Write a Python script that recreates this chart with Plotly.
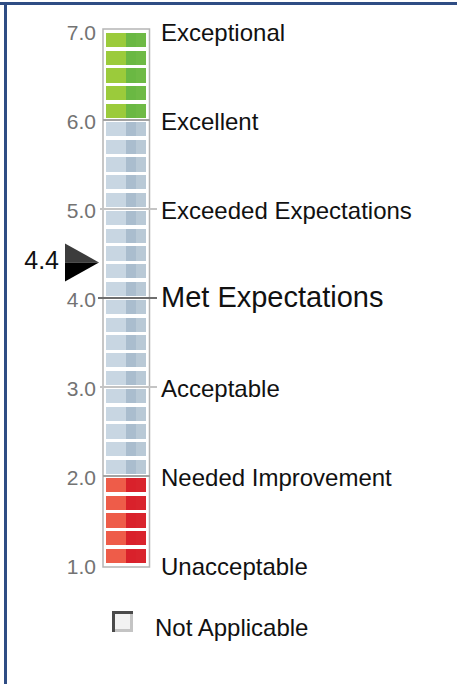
import numpy as np
import plotly.graph_objects as go

# ---- data ----
levels = [1, 2, 3, 4, 5, 6, 7]
tick_labels = ["1.0", "2.0", "3.0", "4.0", "5.0", "6.0", "7.0"]
level_names = ["Unacceptable", "Needed Improvement", "Acceptable", "Met Expectations",
               "Exceeded Expectations", "Excellent", "Exceptional"]
band_names = ["red", "blue", "green"]
band_low = [1, 2, 6]
band_high = [2, 6, 7]
segment_step = 0.2
score = 4.4
score_label = "4.4"
na_label = "Not Applicable"

# ---- layout constants ----
W, H = 457, 684
PX_PER_UNIT = 89.0
Y7_PX = 31.0
y_top = 7 + Y7_PX / PX_PER_UNIT
y_bot = 7 - (H - Y7_PX) / PX_PER_UNIT
TEXT_DROP = 3.5 / PX_PER_UNIT


def py(px):  # pixel -> paper y
    return 1 - px / H


band_colors = {
    "green": ["#9bcb3b", "#6ab843", "#6fba46"],
    "blue": ["#c8d6e2", "#aabdce", "#b9c9d6"],
    "red": ["#ee5c49", "#d9212b", "#d9242d"],
}
col_centers = [116, 131, 141]
col_widths = [20, 10, 10]
gap = 0.02
FONT = "Liberation Sans, Arial"

fig = go.Figure()

# bar outer frame
fig.add_shape(type="rect", xref="x", yref="y", x0=103, x1=149.5,
              y0=1 - 2 / PX_PER_UNIT, y1=7 + 2 / PX_PER_UNIT,
              line=dict(color="#b5b5b5", width=1.5), fillcolor="white", layer="below")

# segments
for name, lo, hi in zip(band_names, band_low, band_high):
    n = int(round((hi - lo) / segment_step))
    bases = [lo + i * segment_step + gap for i in range(n)]
    heights = [segment_step - 2 * gap] * n
    for ci, (cx, cw) in enumerate(zip(col_centers, col_widths)):
        fig.add_trace(go.Bar(x=[cx] * n, y=heights, base=bases, width=cw,
                             marker=dict(color=band_colors[name][ci], line=dict(width=0)),
                             hoverinfo="skip"))

# level lines
for lv in levels:
    if lv in (1, 7):
        continue
    if lv == 4:
        xs, col, wd = [98, 157], "#6e6e6e", 2
    elif lv in (6, 2):
        xs, col, wd = [103, 150], "#a3a3a3", 2
    else:
        xs, col, wd = [100, 157], "#c4c4c4", 2
    fig.add_trace(go.Scatter(x=xs, y=[lv, lv], mode="lines",
                             line=dict(color=col, width=wd), hoverinfo="skip"))

# tick labels
fig.add_trace(go.Scatter(x=[96] * len(levels), y=[v - TEXT_DROP for v in levels], mode="text",
                         text=tick_labels, textposition="middle left",
                         textfont=dict(family=FONT, size=21, color="#737373"),
                         hoverinfo="skip"))

# level names
sizes = [29 if nm == "Met Expectations" else 24 for nm in level_names]
drops = [TEXT_DROP * (0.5 if nm == "Met Expectations" else 1.15) for nm in level_names]
fig.add_trace(go.Scatter(x=[161] * len(levels), y=[v - d for v, d in zip(levels, drops)],
                         mode="text", text=level_names, textposition="middle right",
                         textfont=dict(family=FONT, size=sizes, color="#111111"),
                         hoverinfo="skip"))

# pointer triangle (two-tone)
half = 19 / PX_PER_UNIT
x0, xt = 65, 99
fig.add_trace(go.Scatter(x=[x0, x0, xt, x0], y=[score, score + half, score, score],
                         mode="lines", fill="toself", fillcolor="#3c3c3c",
                         line=dict(width=0, color="#3c3c3c"), hoverinfo="skip"))
fig.add_trace(go.Scatter(x=[x0, x0, xt, x0], y=[score, score - half, score, score],
                         mode="lines", fill="toself", fillcolor="#000000",
                         line=dict(width=0, color="#000000"), hoverinfo="skip"))
fig.add_trace(go.Scatter(x=[59], y=[score], mode="text", text=[score_label],
                         textposition="middle left",
                         textfont=dict(family=FONT, size=25, color="#111111"),
                         hoverinfo="skip"))

# checkbox
bx0, bx1, by0, by1 = 112, 133, 611, 632
fig.add_shape(type="rect", xref="x", yref="paper", x0=bx0, x1=bx1, y0=py(by1), y1=py(by0),
              fillcolor="#f2f2f2", line=dict(width=0))
fig.add_shape(type="line", xref="x", yref="paper", x0=bx0 + 1.5, x1=bx0 + 1.5, y0=py(by1), y1=py(by0),
              line=dict(color="#4a4a4a", width=3))
fig.add_shape(type="line", xref="x", yref="paper", x0=bx0, x1=bx1, y0=py(by0 + 1.5), y1=py(by0 + 1.5),
              line=dict(color="#4a4a4a", width=3))
fig.add_shape(type="line", xref="x", yref="paper", x0=bx1 - 1.5, x1=bx1 - 1.5, y0=py(by1), y1=py(by0 + 3),
              line=dict(color="#c4c4c4", width=3))
fig.add_shape(type="line", xref="x", yref="paper", x0=bx0 + 3, x1=bx1, y0=py(by1 - 1.5), y1=py(by1 - 1.5),
              line=dict(color="#c4c4c4", width=3))
fig.add_annotation(x=154, y=py(627), xref="x", yref="paper", text=na_label, showarrow=False,
                   xanchor="left", yanchor="middle", borderpad=0,
                   font=dict(family=FONT, size=24, color="#111111"))

# outer frame (top and left edges)
fig.add_shape(type="rect", xref="paper", yref="paper", x0=0, x1=1, y0=py(5), y1=py(2),
              fillcolor="#2f4d84", line=dict(width=0))
fig.add_shape(type="rect", xref="paper", yref="paper", x0=4 / W, x1=7 / W, y0=0, y1=py(2),
              fillcolor="#2f4d84", line=dict(width=0))

fig.update_layout(
    width=W, height=H, margin=dict(l=0, r=0, t=0, b=0),
    paper_bgcolor="white", plot_bgcolor="white", showlegend=False,
    barmode="overlay", bargap=0,
    xaxis=dict(range=[0, W], visible=False, fixedrange=True),
    yaxis=dict(range=[y_bot, y_top], visible=False, fixedrange=True),
)

fig.write_html("out.html", config={"displayModeBar": False},
               post_script="document.body.style.margin='0px';document.body.style.overflow='hidden';")
